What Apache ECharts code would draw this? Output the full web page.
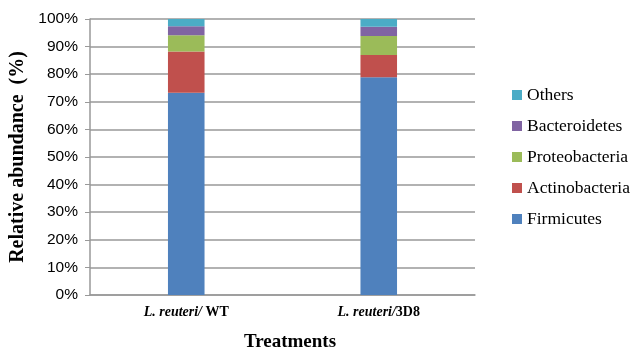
<!DOCTYPE html>
<html><head><meta charset="utf-8">
<script src="https://cdn.jsdelivr.net/npm/echarts@6/dist/echarts.min.js"></script>
<style>html,body{margin:0;padding:0;background:#fff}#c{width:632px;height:354px}</style>
</head><body><div id="c"></div>
<script>
const categories = ['WT', '3D8'];
const seriesNames = ['Firmicutes', 'Actinobacteria', 'Proteobacteria', 'Bacteroidetes', 'Others'];
const firmicutes = [73.3, 78.9];
const actinobacteria = [14.9, 8.1];
const proteobacteria = [5.9, 6.8];
const bacteroidetes = [3.3, 3.4];
const others = [2.6, 2.8];
const yTicks = ['0%','10%','20%','30%','40%','50%','60%','70%','80%','90%','100%'];
const colors = ['#4F81BD', '#C0504D', '#9BBB59', '#8064A2', '#4BACC6'];
const values = [firmicutes, actinobacteria, proteobacteria, bacteroidetes, others];

const chart = echarts.init(document.getElementById('c'));
chart.setOption({
  animation: false,
  grid: { left: 90, right: 157, top: 19, bottom: 59, outerBoundsMode: 'none', containLabel: false },
  legend: {
    orient: 'vertical', left: 507, top: 81,
    data: seriesNames.slice().reverse(),
    itemWidth: 10, itemHeight: 10, itemGap: 13, itemTextGap: 4, icon: 'rect',
    textStyle: { fontFamily: 'Liberation Serif', fontSize: 17.5, color: '#000' }
  },
  xAxis: {
    type: 'category', data: categories,
    name: 'Treatments', nameLocation: 'middle', nameGap: 38,
    nameTextStyle: { fontFamily: 'Liberation Serif', fontWeight: 'bold', fontSize: 19, color: '#000', padding: [0, 0, 0, 15] },
    axisLine: { lineStyle: { color: '#999', width: 1.5 } },
    axisTick: { show: false },
    axisLabel: {
      margin: 10,
      formatter: v => '{i|L. reuteri/}' + (v === 'WT' ? '{b| WT}' : '{b|3D8}'),
      rich: {
        i: { fontFamily: 'Liberation Serif', fontStyle: 'italic', fontWeight: 'bold', fontSize: 14, color: '#000' },
        b: { fontFamily: 'Liberation Serif', fontWeight: 'bold', fontSize: 14, color: '#000' }
      }
    }
  },
  yAxis: {
    type: 'value', min: 0, max: 100, interval: 10,
    name: 'Relative abundance  (%)', nameLocation: 'middle', nameGap: 57,
    nameTextStyle: { fontFamily: 'Liberation Serif', fontWeight: 'bold', fontSize: 20, color: '#000' },
    axisLine: { show: true, lineStyle: { color: '#999', width: 1.5 } },
    axisTick: { show: true, inside: false, length: 5, lineStyle: { color: '#999' } },
    axisLabel: { margin: 12, fontFamily: 'Liberation Sans', fontSize: 15.5, color: '#000',
      formatter: v => yTicks[Math.round(v / 10)] },
    splitLine: { lineStyle: { color: '#999', width: 1.5 } }
  },
  series: seriesNames.map((n, i) => ({
    name: n, type: 'bar', stack: 'total', data: values[i],
    barWidth: '19%', itemStyle: { color: colors[i] }
  }))
});
</script></body></html>
